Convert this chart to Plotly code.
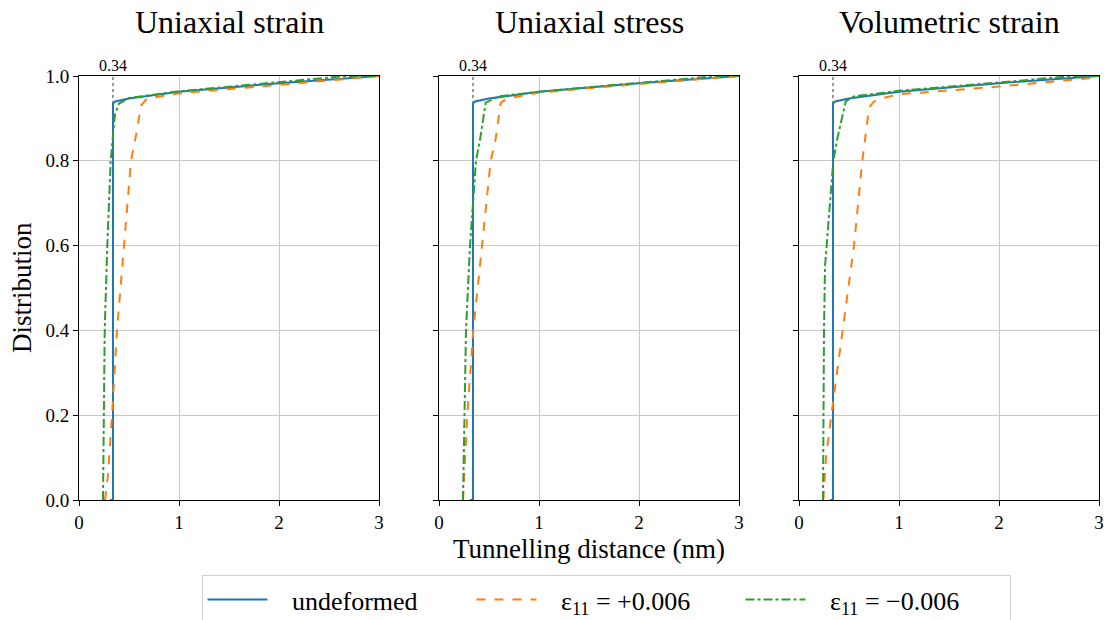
import plotly.graph_objects as go

panel_titles = ["Uniaxial strain", "Uniaxial stress", "Volumetric strain"]
series_names = ["undeformed", "ε<sub>11</sub> = +0.006", "ε<sub>11</sub> = −0.006"]
marker_x = 0.34

# undeformed (same in each panel)
und_x = [0.31, 0.34, 0.34, 0.36, 0.5, 1.0, 2.0, 3.0]
und_y = [0.0, 0.0, 0.935, 0.940, 0.947, 0.963, 0.983, 1.0]

# Uniaxial strain
p1_pos_x = [0.26, 0.29, 0.33, 0.38, 0.45, 0.52, 0.57, 0.62, 0.68, 0.8, 1.0, 2.0, 3.0]
p1_pos_y = [0.0, 0.06, 0.2, 0.4, 0.6, 0.8, 0.86, 0.93, 0.947, 0.952, 0.959, 0.979, 1.0]
p1_neg_x = [0.24, 0.25, 0.257, 0.283, 0.317, 0.34, 0.36, 0.40, 0.5, 1.0, 2.0, 2.67, 3.0]
p1_neg_y = [0.0, 0.2, 0.4, 0.6, 0.8, 0.86, 0.91, 0.935, 0.948, 0.964, 0.986, 1.0, 1.0]

# Uniaxial stress
p2_pos_x = [0.24, 0.26, 0.283, 0.343, 0.433, 0.517, 0.567, 0.617, 0.68, 1.0, 2.0, 3.0]
p2_pos_y = [0.0, 0.1, 0.2, 0.4, 0.6, 0.8, 0.852, 0.937, 0.947, 0.961, 0.981, 1.0]
p2_neg_x = [0.24, 0.257, 0.27, 0.31, 0.37, 0.41, 0.433, 0.467, 0.6, 1.0, 2.0, 2.8, 3.0]
p2_neg_y = [0.0, 0.2, 0.4, 0.6, 0.8, 0.85, 0.882, 0.937, 0.952, 0.963, 0.984, 1.0, 1.0]

# Volumetric strain
p3_pos_x = [0.243, 0.27, 0.323, 0.433, 0.55, 0.633, 0.667, 0.70, 0.75, 0.817, 1.0, 2.0, 3.0]
p3_pos_y = [0.0, 0.1, 0.2, 0.4, 0.6, 0.8, 0.86, 0.925, 0.94, 0.947, 0.957, 0.975, 0.997]
p3_neg_x = [0.24, 0.243, 0.25, 0.26, 0.31, 0.343, 0.383, 0.433, 0.467, 0.55, 1.0, 2.0, 2.75, 3.0]
p3_neg_y = [0.0, 0.2, 0.4, 0.55, 0.7, 0.8, 0.852, 0.906, 0.94, 0.952, 0.965, 0.985, 1.0, 1.0]

x_ticks = [0, 1, 2, 3]
y_ticks = [0.0, 0.2, 0.4, 0.6, 0.8, 1.0]
y_ticklabels = ["0.0", "0.2", "0.4", "0.6", "0.8", "1.0"]

panels = [
    (und_x, und_y, p1_pos_x, p1_pos_y, p1_neg_x, p1_neg_y),
    (und_x, und_y, p2_pos_x, p2_pos_y, p2_neg_x, p2_neg_y),
    (und_x, und_y, p3_pos_x, p3_pos_y, p3_neg_x, p3_neg_y),
]

colors = ["#1f77b4", "#ff7f0e", "#2ca02c"]
dashes = ["solid", "dash", "dashdot"]
FONT = "Liberation Serif"
NB = "\u00a0"

W, H = 1107, 620
x_dom = [[79 / W, 379 / W], [439 / W, 739 / W], [799 / W, 1099 / W]]
y_dom = [1 - 500 / H, 1 - 76 / H]

fig = go.Figure()
for i, pdata in enumerate(panels):
    xa = "x" if i == 0 else f"x{i+1}"
    ya = "y" if i == 0 else f"y{i+1}"
    fig.add_trace(go.Scatter(x=[marker_x, marker_x], y=[0, 1], mode="lines",
                             line=dict(color="gray", width=1.6, dash="dot"),
                             showlegend=False, hoverinfo="skip", xaxis=xa, yaxis=ya))
    for k in range(3):
        fig.add_trace(go.Scatter(x=pdata[2 * k], y=pdata[2 * k + 1], mode="lines",
                                 name=NB * 3 + series_names[k],
                                 line=dict(color=colors[k], width=2, dash=dashes[k]),
                                 showlegend=(i == 0), xaxis=xa, yaxis=ya))

axis_common = dict(showline=True, linecolor="black", linewidth=1, mirror=True,
                   ticks="outside", ticklen=5, tickwidth=1, tickcolor="black",
                   showgrid=True, gridcolor="#c8c8c8", gridwidth=1, zeroline=False,
                   automargin=False,
                   tickfont=dict(family=FONT, size=19, color="black"))

layout = dict(
    width=W, height=H,
    margin=dict(l=0, r=0, t=0, b=0, autoexpand=False),
    paper_bgcolor="white", plot_bgcolor="white",
    showlegend=True,
    legend=dict(orientation="h", x=606 / W, xanchor="center", y=1 - 575 / H, yanchor="top",
                bordercolor="#d0d0d0", borderwidth=1, bgcolor="white",
                font=dict(family=FONT, size=26, color="black"),
                entrywidth=194, itemwidth=60),
)
for i in range(3):
    sx = "" if i == 0 else str(i + 1)
    layout["xaxis" + sx] = dict(axis_common, domain=x_dom[i], range=[0, 3],
                                tickvals=x_ticks, anchor="y" + sx)
    layout["yaxis" + sx] = dict(axis_common, domain=y_dom, range=[0, 1],
                                tickvals=y_ticks, ticktext=y_ticklabels,
                                showticklabels=(i == 0), anchor="x" + sx)
fig.update_layout(**layout)

annotations = []
for i in range(3):
    cx = (x_dom[i][0] + x_dom[i][1]) / 2
    annotations.append(dict(text=panel_titles[i], x=cx, y=1 - 22 / H, xref="paper", yref="paper",
                            xanchor="center", yanchor="middle", showarrow=False,
                            font=dict(family=FONT, size=32, color="black")))
    sx = "" if i == 0 else str(i + 1)
    annotations.append(dict(text=str(marker_x), x=marker_x, y=1.0, xref="x" + sx, yref="y" + sx,
                            xanchor="center", yanchor="bottom", yshift=0, showarrow=False,
                            font=dict(family=FONT, size=16, color="black")))
annotations.append(dict(text="Tunnelling distance (nm)", x=589 / W, y=1 - 549 / H,
                        xref="paper", yref="paper", xanchor="center", yanchor="middle",
                        showarrow=False, font=dict(family=FONT, size=27, color="black")))
annotations.append(dict(text="Distribution", x=22 / W, y=1 - 288 / H, textangle=-90,
                        xref="paper", yref="paper", xanchor="center", yanchor="middle",
                        showarrow=False, font=dict(family=FONT, size=27, color="black")))
fig.update_layout(annotations=annotations)

fig.write_html("out.html")
